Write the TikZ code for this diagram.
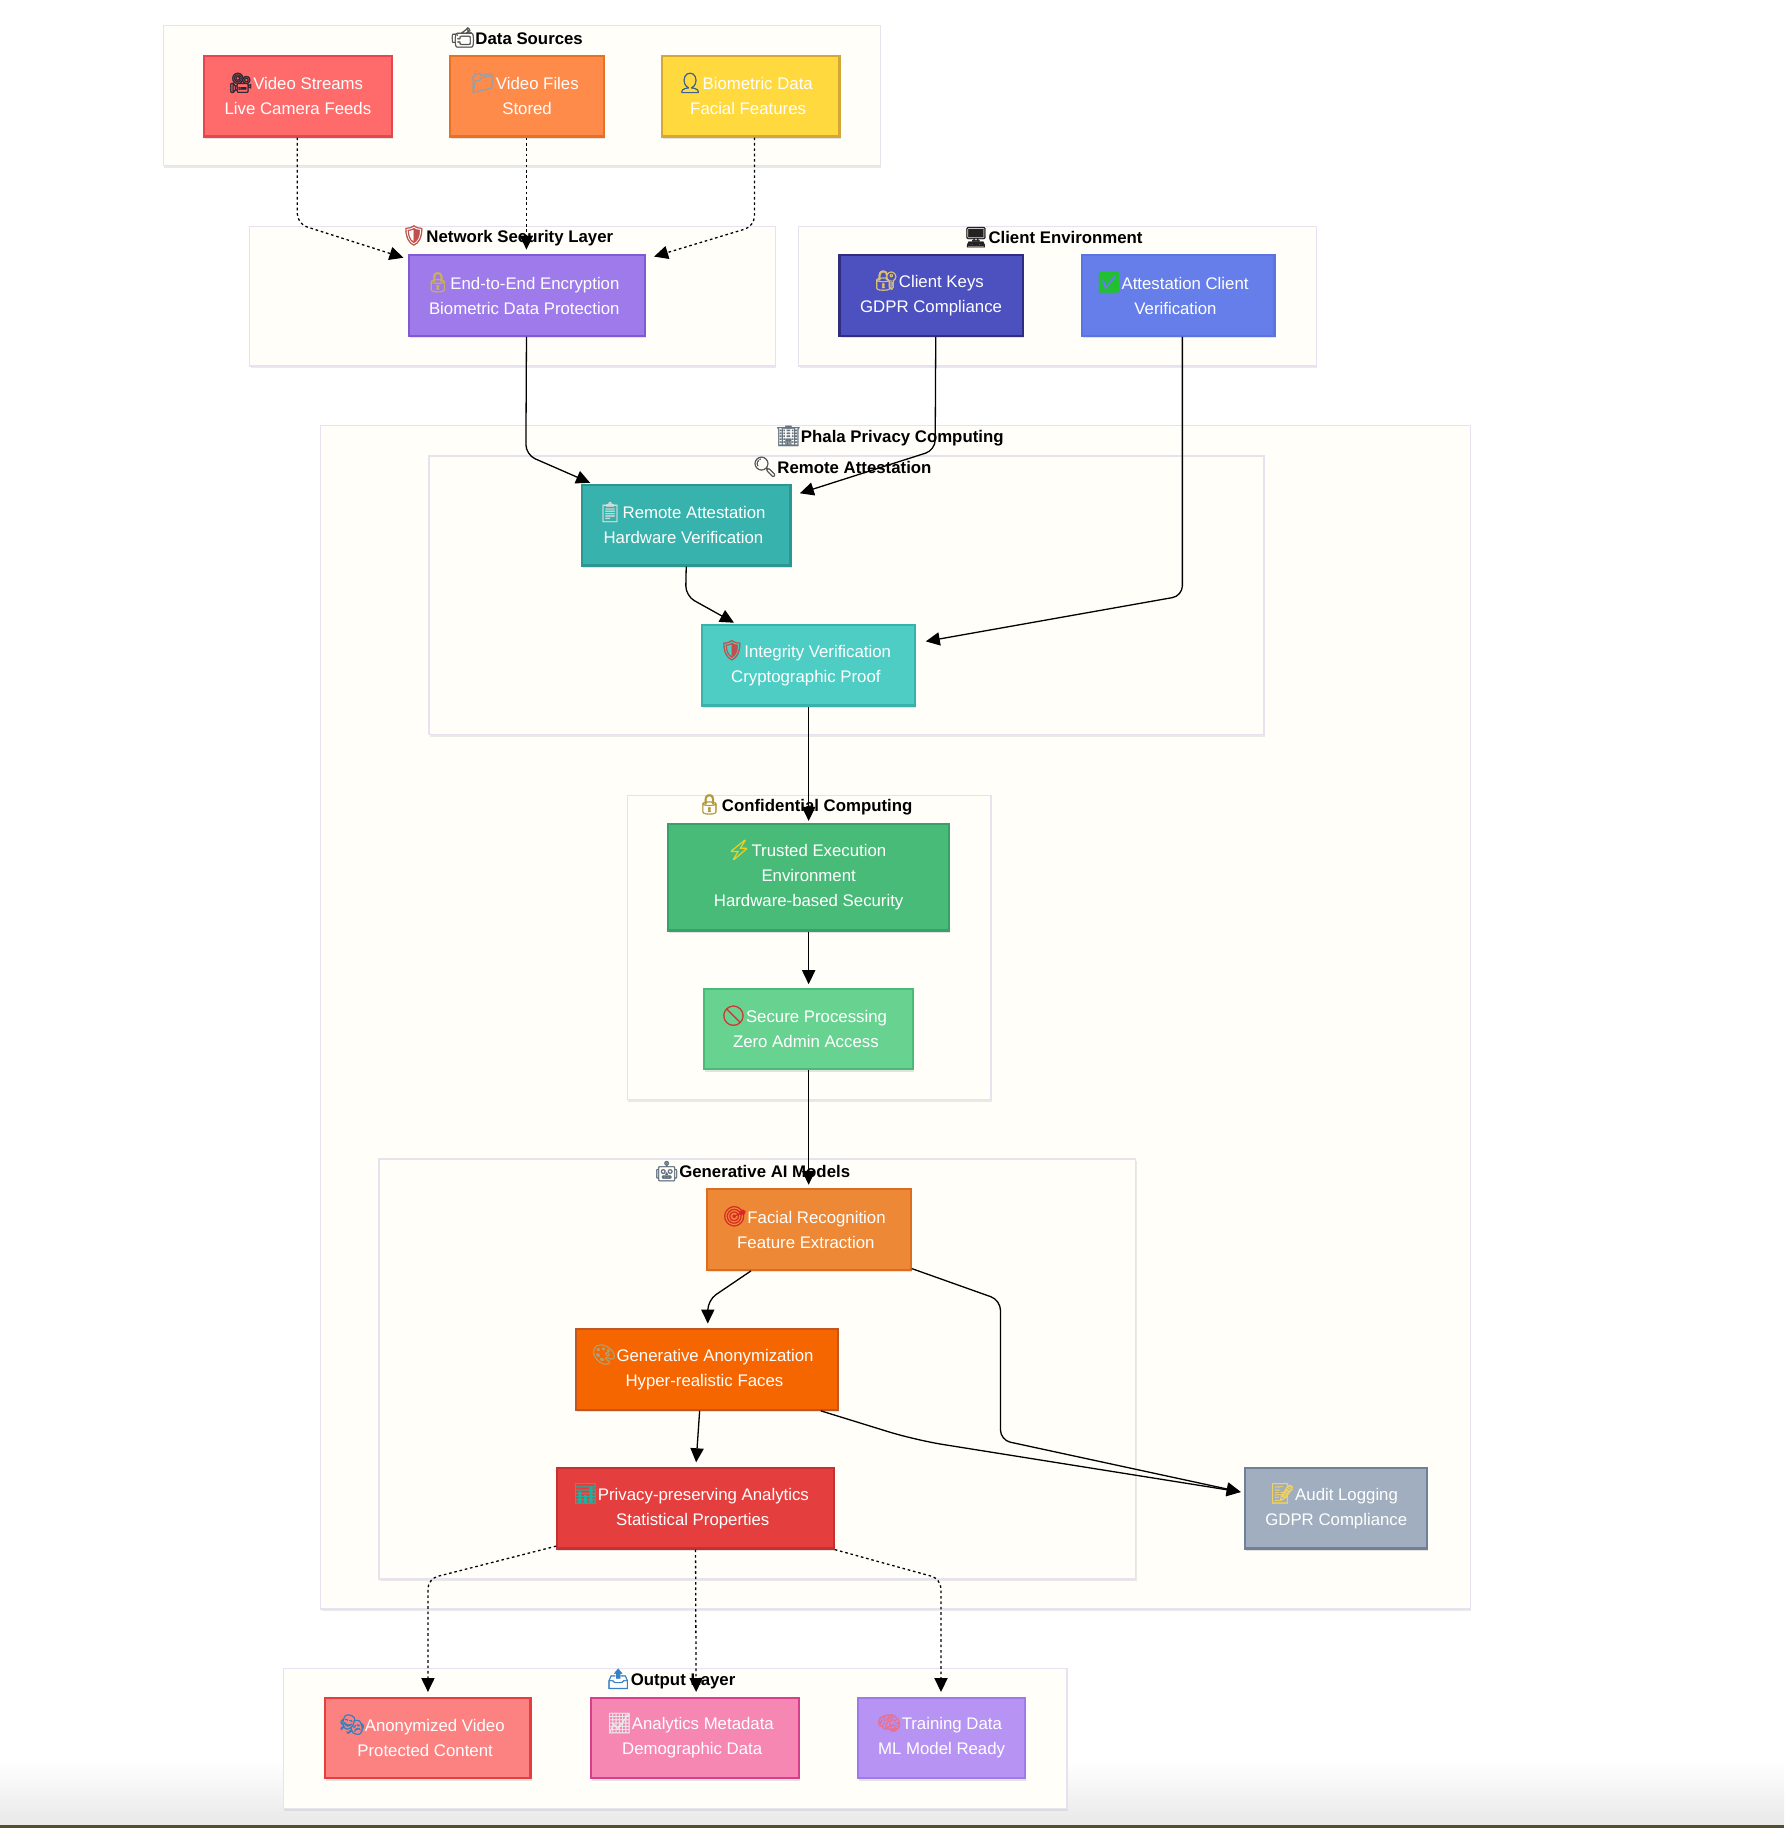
\documentclass[tikz,border=0pt]{standalone}
\usepackage{fontspec}
\setmainfont{Liberation Sans}
\newfontfamily\emo[FakeBold=1.6,Scale=1.18]{Noto Emoji}
\usetikzlibrary{arrows.meta,shadows,positioning}
\definecolor{clfill}{HTML}{FFFEF9}
\definecolor{clline}{HTML}{E8E2F0}
\newcommand{\emj}[2]{\smash{\textcolor[HTML]{#1}{{\emo #2}}}}
\newcommand{\trl}{\rule{2.8pt}{0pt}}
\newcommand{\trn}[1]{\rule{#1pt}{0pt}}
\tikzset{
  x=0.583pt,y=-0.583pt,
  sz/.style 2 args={minimum width=#1*0.583pt,minimum height=#2*0.583pt},
  cluster/.style={rectangle,draw=clline,line width=0.7pt,fill=clfill,inner sep=0pt,
    drop shadow={shadow xshift=0.5pt,shadow yshift=-1.1pt,opacity=.16}},
  boxn/.style={rectangle,line width=1.1pt,text=white,align=center,inner sep=0pt,
    font=\fontsize{8.4}{12.55}\selectfont,
    drop shadow={shadow xshift=0.5pt,shadow yshift=-1.2pt,opacity=.22}},
  ttl/.style={inner sep=0pt,font=\fontsize{8.4}{11}\selectfont\bfseries,text=black},
  edge/.style={draw=black,line width=0.65pt,rounded corners=5pt,-{Triangle[length=7pt,width=6.6pt]}},
  dot/.style={edge,dash pattern=on 1.3pt off 1.4pt},
}
\begin{document}
\begin{tikzpicture}
\useasboundingbox (0,0) rectangle (1530,1567.7);
\fill[white] (0,0) rectangle (1530,1567.7);
\shade[top color=white,bottom color=black!9] (0,1510) rectangle (1530,1565.5);
\fill[black!55!olive] (0,1565.5) rectangle (1530,1567.7);
% clusters
\node[cluster,sz={615}{120}] (cds) at (447.5,82) {};
\node[cluster,sz={451}{120}] (cnet) at (439.5,254) {};
\node[cluster,sz={444}{120}] (ccl) at (907,254) {};
\node[cluster,sz={986}{1015}] (cph) at (768,872.5) {};
\node[cluster,sz={716}{239}] (cra) at (726,510.5) {};
\node[cluster,sz={312}{261}] (ccc) at (694,812.5) {};
\node[cluster,sz={649}{360}] (cgm) at (649.5,1174) {};
\node[cluster,sz={672}{120}] (cout) at (579,1491) {};
% titles
\node[ttl] (tds) at (443,33) {\emj{555555}{📹}Data Sources};
\node[ttl] (tnet) at (435,204) {\emj{C0504D}{🛡}Network Security Layer};
\node[ttl] (tcl) at (903,204) {\emj{222222}{🖥}Client Environment};
\node[ttl] (tph) at (763,376) {\emj{667580}{🏢}Phala Privacy Computing};
\node[ttl] (tra) at (722,401) {\emj{555555}{🔍}Remote Attestation};
\node[ttl] (tcc) at (690,692) {\emj{B09A40}{🔒}Confidential Computing};
\node[ttl] (tgm) at (645,1005) {\emj{607080}{🤖}Generative AI Models};
\node[ttl] (tout) at (575,1442) {\emj{3580C8}{📤}Output Layer};
% boxes
\node[boxn,sz={161}{69},fill={rgb,255:red,255;green,107;blue,107},draw={rgb,255:red,232;green,70;blue,78}] (vs) at (255.5,82.5) {\emj{2A2A35}{🎥}Video Streams\trn{2.3}\\Live Camera Feeds};
\node[boxn,sz={132}{69},fill={rgb,255:red,255;green,139;blue,74},draw={rgb,255:red,232;green,112;blue,36}] (vf) at (452,82.5) {\emj{90A0B0}{📁}Video Files\trn{2.3}\\Stored};
\node[boxn,sz={152}{69},fill={rgb,255:red,255;green,217;blue,61},draw={rgb,255:red,212;green,168;blue,56}] (bd) at (644,82.5) {\emj{3A5F90}{👤}Biometric Data\trn{5.8}\\Facial Features\trl};
\node[boxn,sz={202}{69},fill={rgb,255:red,159;green,122;blue,234},draw={rgb,255:red,128;green,90;blue,213}] (e2e) at (452,253.5) {\emj{C8B060}{🔒}End-to-End Encryption\trn{4.7}\\Biometric Data Protection\trl};
\node[boxn,sz={157}{69},fill={rgb,255:red,76;green,81;blue,191},draw={rgb,255:red,49;green,46;blue,129}] (ck) at (798.5,253.5) {\emj{D8C070}{🔐}Client Keys\trn{2.3}\\GDPR Compliance};
\node[boxn,sz={165}{69},fill={rgb,255:red,102;green,126;blue,234},draw={rgb,255:red,92;green,116;blue,224}] (ac) at (1010.5,253.5) {\emj{20C030}{✅}Attestation Client\trn{5.8}\\Verification\trl};
\node[boxn,sz={179}{69},fill={rgb,255:red,56;green,178;blue,172},draw={rgb,255:red,44;green,150;blue,146}] (ra) at (588.5,450.5) {\emj{D8D8D8}{📋}Remote Attestation\trn{4.7}\\Hardware Verification\trl};
\node[boxn,sz={183}{69},fill={rgb,255:red,78;green,205;blue,196},draw={rgb,255:red,56;green,178;blue,172}] (iv) at (693.5,570.5) {\emj{C0504D}{🛡}Integrity Verification\trn{3.5}\\Cryptographic Proof\trl};
\node[boxn,sz={241}{91},fill={rgb,255:red,72;green,187;blue,120},draw={rgb,255:red,56;green,161;blue,105}] (tee) at (693.5,752.5) {\emj{F0D020}{⚡}Trusted Execution\trn{2.3}\\Environment\\Hardware-based Security};
\node[boxn,sz={179}{69},fill={rgb,255:red,104;green,211;blue,145},draw={rgb,255:red,72;green,187;blue,120}] (sp) at (693.5,882.5) {\emj{D83030}{🚫}Secure Processing\trn{4.7}\\Zero Admin Access\trl};
\node[boxn,sz={175}{69},fill={rgb,255:red,237;green,137;blue,54},draw={rgb,255:red,221;green,107;blue,32}] (fr) at (693.5,1054.5) {\emj{D82828}{🎯}Facial Recognition\trn{4.7}\\Feature Extraction\trl};
\node[boxn,sz={225}{69},fill={rgb,255:red,245;green,101;blue,0},draw={rgb,255:red,192;green,86;blue,33}] (ga) at (606.5,1174.5) {\emj{B0A070}{🎨}Generative Anonymization\trn{4.7}\\Hyper-realistic Faces\trl};
\node[boxn,sz={237}{69},fill={rgb,255:red,229;green,62;blue,62},draw={rgb,255:red,197;green,48;blue,48}] (pa) at (596.5,1293.5) {\emj{20B0A0}{📊}Privacy-preserving Analytics\trn{4.7}\\Statistical Properties\trl};
\node[boxn,sz={156}{69},fill={rgb,255:red,160;green,174;blue,192},draw={rgb,255:red,113;green,128;blue,150}] (al) at (1146,1293.5) {\emj{F0D060}{📝}Audit Logging\trn{2.3}\\GDPR Compliance};
\node[boxn,sz={176}{69},fill={rgb,255:red,252;green,129;blue,129},draw={rgb,255:red,229;green,62;blue,62}] (av) at (367,1490.5) {\emj{3080C0}{🎭}Anonymized Video\trn{5.8}\\Protected Content\trl};
\node[boxn,sz={178}{69},fill={rgb,255:red,246;green,135;blue,179},draw={rgb,255:red,213;green,63;blue,140}] (am) at (596,1490.5) {\emj{E8E8E8}{📈}Analytics Metadata\trn{4.7}\\Demographic Data\trl};
\node[boxn,sz={143}{69},fill={rgb,255:red,183;green,148;blue,244},draw={rgb,255:red,159;green,122;blue,234}] (td) at (807.5,1490.5) {\emj{E87090}{🧠}Training Data\trn{2.3}\\ML Model Ready};
% connectors
\draw[dot] ([shift={(-0.5,0)}]vs.south) -- (255,192) -- ([shift={(-4,3)}]e2e.north west);
\draw[dot] ([shift={(-0.5,0)}]vf.south) -- ([shift={(-0.5,-4)}]e2e.north);
\draw[dot] ([shift={(3,0)}]bd.south) -- (647,194) -- ([shift={(7,2)}]e2e.north east);
\draw[edge] ([shift={(-0.5,0)}]e2e.south) -- (451,390) -- ([shift={(8,-1)}]ra.north west);
\draw[edge] ([shift={(4,0)}]ck.south) -- (802,386) -- ([shift={(7,8)}]ra.north east);
\draw[edge] ([shift={(3.5,0)}]ac.south) -- (1014,511) -- ([shift={(8,15)}]iv.north east);
\draw[edge] (ra.south) -- (588,511) -- ([shift={(-64,-1)}]iv.north);
\draw[edge] (iv.south) -- ([shift={(0,-2)}]tee.north);
\draw[edge] (tee.south) -- ([shift={(0,-3)}]sp.north);
\draw[edge] (sp.south) -- ([shift={(0,-3)}]fr.north);
\draw[edge] ([shift={(-49.5,0)}]fr.south) -- (607,1115) -- ([shift={(0.5,-4)}]ga.north);
\draw[edge] ([shift={(0,-2)}]fr.south east) -- (858,1115) -- (858,1235) -- ([shift={(-3,-14)}]al.west);
\draw[edge] ([shift={(-6.5,0)}]ga.south) -- ([shift={(0.5,-4)}]pa.north);
\draw[edge,rounded corners=14pt] ([shift={(-16,0)}]ga.south east) -- (785,1235) -- ([shift={(-3,-14)}]al.west);
\draw[dot] ([shift={(0,-3)}]pa.south west) -- (367,1354) -- ([shift={(0,-4)}]av.north);
\draw[dot] (pa.south) -- ([shift={(1,-4)}]am.north);
\draw[dot] (pa.south east) -- (807,1354) -- ([shift={(-0.5,-4)}]td.north);
\end{tikzpicture}
\end{document}
